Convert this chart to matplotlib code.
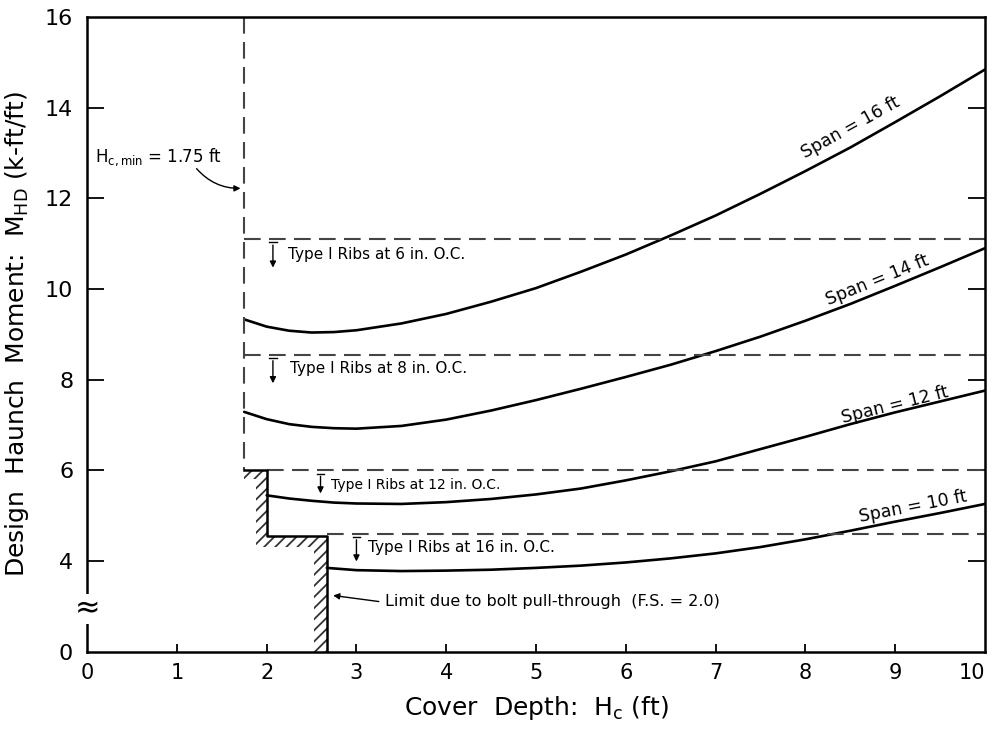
import numpy as np
import matplotlib
matplotlib.use("Agg")
import matplotlib.pyplot as plt
from matplotlib.patches import Polygon

plt.rcParams['font.family'] = ['DejaVu Sans']
plt.rcParams['mathtext.default'] = 'regular'
plt.rcParams['hatch.linewidth'] = 1.3

# curves: design haunch moment (k-ft/ft) vs cover depth (ft)
x16 = [1.75, 2.0, 2.25, 2.5, 2.75, 3.0, 3.5, 4.0, 4.5, 5.0, 5.5, 6.0, 6.5, 7.0, 7.5, 8.0, 8.5, 9.0, 9.5, 10.0]
m16 = [9.33, 9.17, 9.08, 9.04, 9.05, 9.09, 9.24, 9.45, 9.72, 10.02, 10.38, 10.76, 11.18, 11.62, 12.10, 12.60, 13.12, 13.68, 14.25, 14.84]
x14 = [1.75, 2.0, 2.25, 2.5, 2.75, 3.0, 3.5, 4.0, 4.5, 5.0, 5.5, 6.0, 6.5, 7.0, 7.5, 8.0, 8.5, 9.0, 9.5, 10.0]
m14 = [7.29, 7.13, 7.02, 6.96, 6.93, 6.92, 6.98, 7.12, 7.32, 7.55, 7.80, 8.06, 8.33, 8.63, 8.95, 9.30, 9.67, 10.07, 10.48, 10.90]
x12 = [2.0, 2.25, 2.5, 2.75, 3.0, 3.5, 4.0, 4.5, 5.0, 5.5, 6.0, 6.5, 7.0, 7.5, 8.0, 8.5, 9.0, 9.5, 10.0]
m12 = [5.45, 5.38, 5.33, 5.29, 5.27, 5.26, 5.30, 5.37, 5.47, 5.60, 5.78, 5.98, 6.20, 6.47, 6.74, 7.02, 7.28, 7.52, 7.76]
x10 = [2.67, 3.0, 3.5, 4.0, 4.5, 5.0, 5.5, 6.0, 6.5, 7.0, 7.5, 8.0, 8.5, 9.0, 9.5, 10.0]
m10 = [3.85, 3.80, 3.78, 3.79, 3.81, 3.85, 3.90, 3.97, 4.06, 4.17, 4.31, 4.48, 4.67, 4.87, 5.06, 5.26]

span_labels = ["Span = 16 ft", "Span = 14 ft", "Span = 12 ft", "Span = 10 ft"]
label_pos = [(8.5, 13.55, 29), (8.8, 10.2, 22), (9.0, 7.45, 14), (9.2, 5.2, 11)]

# rib spacing limits (horizontal dashed lines)
rib_spacing = [6, 8, 12, 16]
rib_moment = [11.1, 8.55, 6.0, 4.6]
rib_start = [1.75, 1.75, 2.0, 2.67]

hc_min = 1.75
# bolt pull-through limit step line
bolt_x = [1.75, 2.0, 2.0, 2.67, 2.67]
bolt_y = [6.0, 6.0, 4.55, 4.55, 2.0]

fig = plt.figure(figsize=(9.97, 7.34), dpi=100)
ax = fig.add_axes([0.0873, 0.112, 0.9007, 0.865])
ax.set_xlim(0, 10)
ax.set_ylim(2, 16)

for xs, ys in [(x16, m16), (x14, m14), (x12, m12), (x10, m10)]:
    ax.plot(xs, ys, color='black', lw=1.9, solid_capstyle='round', solid_joinstyle='round')

for (lx, ly, rot), txt in zip(label_pos, span_labels):
    ax.text(lx, ly, txt, rotation=rot, ha='center', va='center', fontsize=12.5,
            rotation_mode='anchor')

dash_kw = dict(color='#444444', lw=1.5, dashes=(8, 4))
ax.plot([hc_min, hc_min], [16, 6.0], **dash_kw)
for y, x0 in zip(rib_moment, rib_start):
    ax.plot([x0, 10], [y, y], **dash_kw)

# hatched band along the bolt pull-through limit
band = Polygon([(1.75, 6.0), (2.0, 6.0), (2.0, 4.55), (2.67, 4.55), (2.67, 2.0),
                (2.53, 2.0), (2.53, 4.3), (1.88, 4.3), (1.88, 5.8), (1.75, 5.8)],
               closed=True, facecolor='none', edgecolor='#333333', lw=0, hatch='///')
ax.add_patch(band)
ax.plot(bolt_x, bolt_y, color='black', lw=1.8)

# rib annotations
rib_text_pos = [(2.24, 10.77), (2.26, 8.24), (2.72, 5.67), (3.13, 4.29)]
rib_arrow_x = [2.07, 2.07, 2.6, 3.0]
rib_arrow_len = [0.62, 0.62, 0.5, 0.6]
for sp, y, (tx, ty), axx, al in zip(rib_spacing, rib_moment, rib_text_pos, rib_arrow_x, rib_arrow_len):
    fs = 10 if sp == 12 else 11
    ax.text(tx, ty, f"Type I Ribs at {sp} in. O.C.", fontsize=fs, va='center', ha='left')
    ax.plot([axx - 0.04, axx + 0.04], [y - 0.07, y - 0.07], color='black', lw=1)
    ax.annotate("", xy=(axx, y - 0.07 - al), xytext=(axx, y - 0.07),
                arrowprops=dict(arrowstyle='-|>', color='black', lw=1, mutation_scale=9))

ax.text(0.09, 12.9, "H$_{c,min}$ = 1.75 ft", fontsize=12, va='center', ha='left')
ax.annotate("", xy=(hc_min - 0.01, 12.22), xytext=(1.2, 12.7),
            arrowprops=dict(arrowstyle='-|>', color='black', lw=1, mutation_scale=9,
                            connectionstyle='arc3,rad=0.25'))

ax.text(3.32, 3.1, "Limit due to bolt pull-through  (F.S. = 2.0)", fontsize=11.5,
        va='center', ha='left')
ax.annotate("", xy=(2.71, 3.25), xytext=(3.28, 3.1),
            arrowprops=dict(arrowstyle='-|>', color='black', lw=1, mutation_scale=9))

# axis break mark
ax.text(0, 2.95, "≈", fontsize=22, ha='center', va='center',
        bbox=dict(facecolor='white', edgecolor='none', pad=0.5), clip_on=False)

yt = [2, 4, 6, 8, 10, 12, 14, 16]
ytl = ['0', '4', '6', '8', '10', '12', '14', '16']
ax.set_yticks(yt)
ax.set_yticklabels(ytl, fontsize=16)
ax.set_xticks(range(11))
ax.set_xticklabels([str(i) for i in range(11)], fontsize=15)
ax.tick_params(axis='y', direction='in', length=12, width=1.3, right=True, pad=10)
ax.tick_params(axis='x', direction='in', length=6, width=1.3, pad=8)
for t in [ax.yaxis.get_major_ticks()[0], ax.yaxis.get_major_ticks()[-1],
          ax.xaxis.get_major_ticks()[0], ax.xaxis.get_major_ticks()[-1]]:
    t.tick1line.set_visible(False)
    t.tick2line.set_visible(False)
ax.xaxis.get_majorticklabels()[-1].set_horizontalalignment('right')
ax.xaxis.get_majorticklabels()[-1].set_x(9.99)

for s in ax.spines.values():
    s.set_linewidth(1.8)

ax.set_xlabel("Cover  Depth:  H$_c$ (ft)", fontsize=18, labelpad=8)
ax.set_ylabel("Design  Haunch  Moment:  M$_{HD}$ (k-ft/ft)", fontsize=18, labelpad=10)

fig.savefig("out.png", dpi=100)
